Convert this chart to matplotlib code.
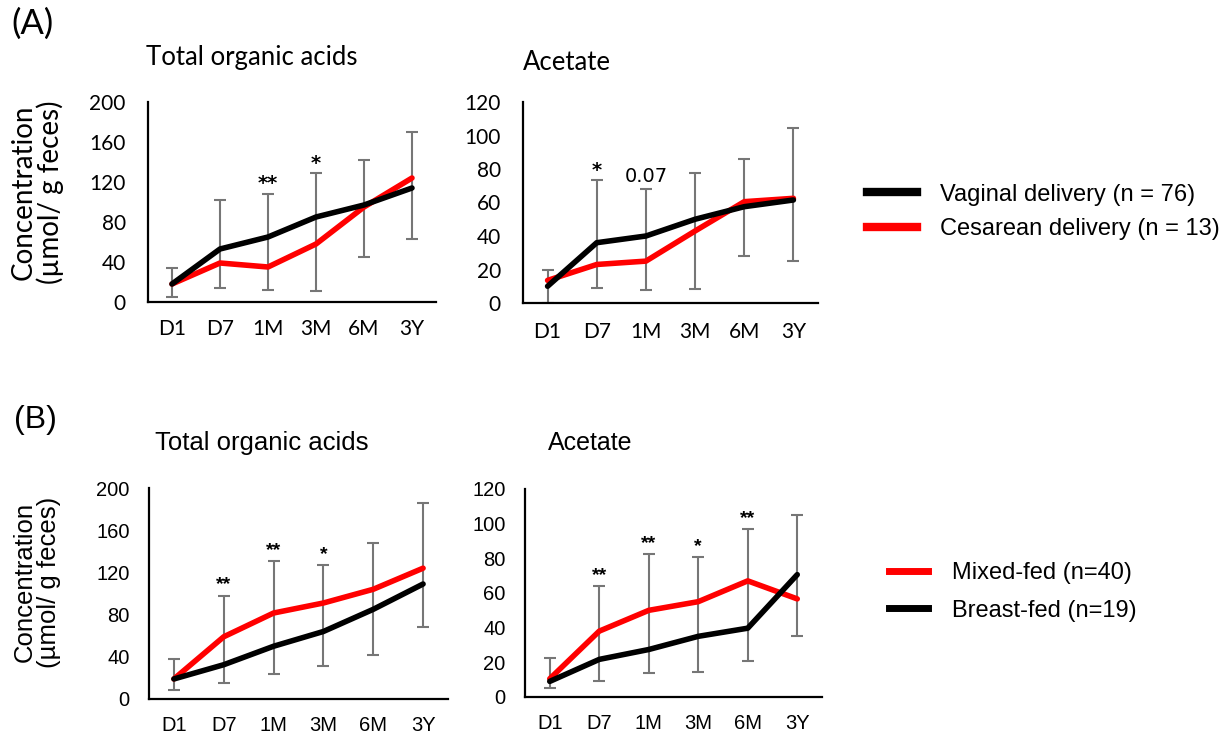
import numpy as np
import matplotlib.pyplot as plt
from matplotlib.lines import Line2D

# 时间点
timepoints = ['D1', 'D7', '1M', '3M', '6M', '3Y']

# (A) 分娩方式 - 总有机酸
a_total_vaginal = [18, 53, 65, 85, 97, 114]
a_total_cesarean = [18, 39, 35, 58, 95, 124]
a_total_err_lo = [5, 14, 12, 11, 45, 63]
a_total_err_hi = [34, 102, 108, 129, 142, 170]
a_total_marks = ['', '', '**', '*', '', '']

# (A) 分娩方式 - 乙酸
a_acet_vaginal = [10, 36, 40, 50, 57.5, 61.5]
a_acet_cesarean = [13.5, 23, 25, 43, 60.5, 62.5]
a_acet_err_lo = [0, 8.7, 8, 8.5, 28, 25]
a_acet_err_hi = [19.6, 73.4, 68, 77.6, 86, 104.6]
a_acet_marks = ['', '*', '0.07', '', '', '']

# (B) 喂养方式 - 总有机酸
b_total_mixed = [19, 59, 81.5, 91, 104, 124]
b_total_breast = [19, 32.5, 50, 64, 85, 109]
b_total_err_lo = [9, 15, 24, 31, 42, 68]
b_total_err_hi = [38, 98, 130.5, 127, 148, 186]
b_total_marks = ['', '**', '**', '*', '', '']

# (B) 喂养方式 - 乙酸
b_acet_mixed = [10.5, 38, 50, 55, 67, 56.6]
b_acet_breast = [9, 21.7, 27.4, 35, 39.7, 70.6]
b_acet_err_lo = [5, 9, 13.8, 14.2, 21, 35.3]
b_acet_err_hi = [22.5, 64, 82.5, 81, 97, 104.8]
b_acet_marks = ['', '**', '**', '*', '**', '']

W, H = 1228, 736
fig = plt.figure(figsize=(W / 100, H / 100), dpi=100)


def box(l, t, r, b):
    return [l / W, 1 - b / H, (r - l) / W, (b - t) / H]


def draw_panel(rect, red, black, lo, hi, marks, ymax, yticks, font, tsize, ypad, xpad, msize, mfont):
    ax = fig.add_axes(box(*rect))
    x = np.arange(len(timepoints))
    lo = np.array(lo)
    hi = np.array(hi)
    mid = (lo + hi) / 2
    ax.errorbar(x, mid, yerr=[mid - lo, hi - mid], fmt='none', ecolor='#767676',
                elinewidth=1.5, capsize=4.3, capthick=1.5, zorder=1, clip_on=True)
    ax.plot(x, red, color='#ff0000', lw=4, solid_capstyle='round', zorder=2)
    ax.plot(x, black, color='black', lw=4, solid_capstyle='round', zorder=3)
    for xi, m, h in zip(x, marks, hi):
        if m:
            off = 0.05 * ymax if m != '0.07' else 0.065 * ymax
            ax.text(xi, h + off, m, ha='center', va='center', fontsize=msize,
                    fontfamily=mfont, fontweight='bold' if m != '0.07' else 'normal')
    ax.set_xlim(-0.5, len(timepoints) - 0.5)
    ax.set_ylim(0, ymax)
    ax.set_yticks(yticks)
    ax.set_xticks(x)
    ax.set_xticklabels(timepoints)
    for s in ['top', 'right']:
        ax.spines[s].set_visible(False)
    for s in ['left', 'bottom']:
        ax.spines[s].set_linewidth(1.6)
        ax.spines[s].set_zorder(4)
    ax.tick_params(axis='both', length=0, labelsize=tsize)
    ax.tick_params(axis='y', pad=ypad)
    ax.tick_params(axis='x', pad=xpad)
    for lab in ax.get_xticklabels() + ax.get_yticklabels():
        lab.set_fontfamily(font)
    return ax


calibri = 'Lato'
arial = 'Liberation Sans'

draw_panel((148, 102, 436, 302), a_total_cesarean, a_total_vaginal, a_total_err_lo,
           a_total_err_hi, a_total_marks, 200, [0, 40, 80, 120, 160, 200],
           calibri, 15, 16, 12, 14, 'DejaVu Sans')
draw_panel((523, 102, 818, 303), a_acet_cesarean, a_acet_vaginal, a_acet_err_lo,
           a_acet_err_hi, a_acet_marks, 120, [0, 20, 40, 60, 80, 100, 120],
           calibri, 15, 16, 14, 14, 'DejaVu Sans')
draw_panel((149, 488, 448, 699), b_total_mixed, b_total_breast, b_total_err_lo,
           b_total_err_hi, b_total_marks, 200, [0, 40, 80, 120, 160, 200],
           arial, 14.5, 14, 12, 14, arial)
draw_panel((525, 489, 822, 697), b_acet_mixed, b_acet_breast, b_acet_err_lo,
           b_acet_err_hi, b_acet_marks, 120, [0, 20, 40, 60, 80, 100, 120],
           arial, 14.5, 14, 12, 14, arial)

# 面板标签和标题
fig.text(11 / W, 1 - 24 / H, '(A)', fontsize=25, fontfamily=calibri, va='center', ha='left')
fig.text(14 / W, 1 - 420 / H, '(B)', fontsize=23, fontfamily=arial, va='center', ha='left')
fig.text(146 / W, 1 - 58 / H, 'Total organic acids', fontsize=18.5, fontfamily=calibri, va='center')
fig.text(523 / W, 1 - 62 / H, 'Acetate', fontsize=18.5, fontfamily=calibri, va='center')
fig.text(155 / W, 1 - 443 / H, 'Total organic acids', fontsize=18.5, fontfamily=arial, va='center')
fig.text(548 / W, 1 - 443 / H, 'Acetate', fontsize=18, fontfamily=arial, va='center')

# y 轴标题
fig.text(37 / W, 1 - 192 / H, 'Concentration\n(µmol/ g feces)', rotation=90, fontsize=20,
         fontfamily=calibri, ha='center', va='center', linespacing=1.0)
fig.text(37 / W, 1 - 582 / H, 'Concentration\n(µmol/ g feces)', rotation=90, fontsize=18.5,
         fontfamily=arial, ha='center', va='center', linespacing=1.05)

# 图例
leg_a = [Line2D([], [], color='black', lw=6), Line2D([], [], color='#ff0000', lw=6)]
fig.legend(leg_a, ['Vaginal delivery (n = 76)', 'Cesarean delivery (n = 13)'],
           loc='center left', bbox_to_anchor=(867 / W, 1 - 212 / H), frameon=False,
           prop={'family': arial, 'size': 17}, handlelength=2.1, handletextpad=1.0,
           labelspacing=0.55, borderpad=0, borderaxespad=0)
leg_b = [Line2D([], [], color='#ff0000', lw=5), Line2D([], [], color='black', lw=5)]
fig.legend(leg_b, ['Mixed-fed (n=40)', 'Breast-fed (n=19)'],
           loc='center left', bbox_to_anchor=(889 / W, 1 - 592 / H), frameon=False,
           prop={'family': arial, 'size': 17}, handlelength=1.65, handletextpad=1.0,
           labelspacing=0.65, borderpad=0, borderaxespad=0)

plt.savefig('out.png', dpi=100)
